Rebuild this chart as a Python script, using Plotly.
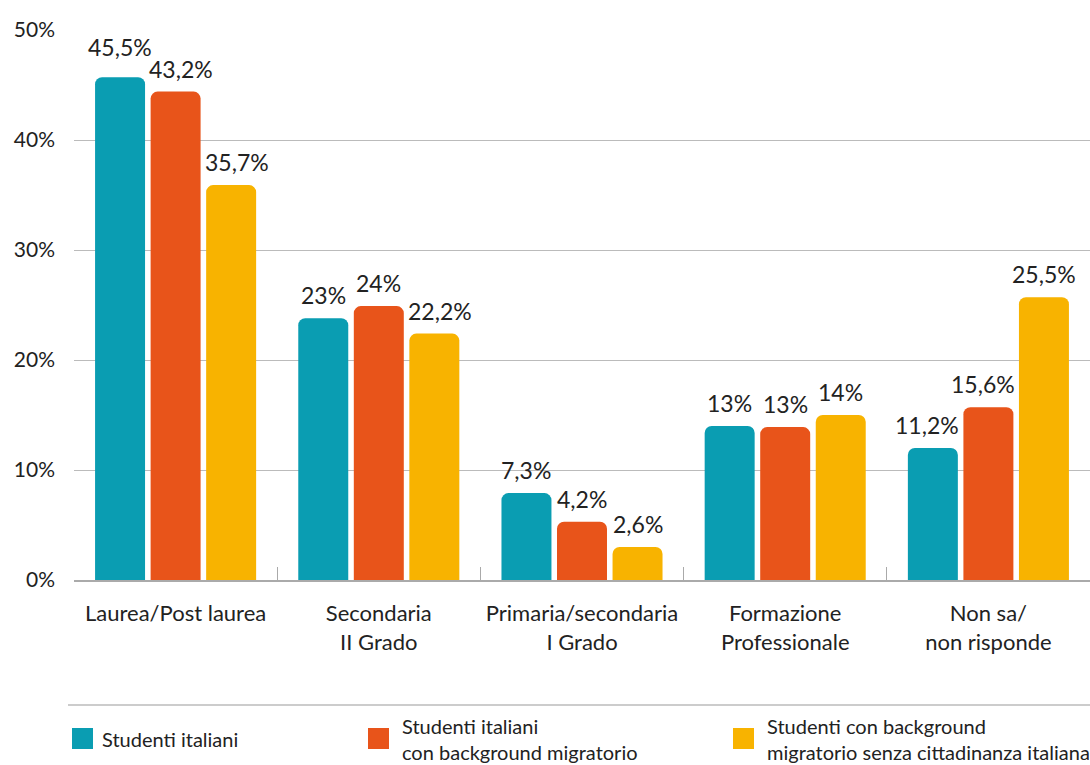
import plotly.graph_objects as go

categories = ["Laurea/Post laurea", "Secondaria<br>II Grado", "Primaria/secondaria<br>I Grado",
              "Formazione<br>Professionale", "Non sa/<br>non risponde"]
series_names = ["Studenti italiani",
                "Studenti italiani<br>con background migratorio",
                "Studenti con background<br>migratorio senza cittadinanza italiana"]
values_italiani = [45.7, 23.8, 7.9, 14.0, 12.0]
values_background = [44.4, 24.9, 5.3, 13.9, 15.7]
values_senza = [35.9, 22.4, 3.0, 15.0, 25.7]
labels_italiani = ["45,5%", "23%", "7,3%", "13%", "11,2%"]
labels_background = ["43,2%", "24%", "4,2%", "13%", "15,6%"]
labels_senza = ["35,7%", "22,2%", "2,6%", "14%", "25,5%"]
y_ticks = [0, 10, 20, 30, 40, 50]
y_tick_text = ["0%", "10%", "20%", "30%", "40%", "50%"]

colors = ["#0A9DB2", "#E8541A", "#F8B300"]
FONT = "Lato, 'Noto Sans', sans-serif"
LABEL_SIZE = 23

W, H = 1090, 765
ML, MR, MT, MB = 74, 0, 30, 185
pw = W - ML - MR
ph = H - MT - MB
BARGAP, GROUPGAP = 0.18, 0.1
YMAX = 50
n_series = 3
slot = pw / len(categories) * (1 - BARGAP) / n_series
bar_w = slot * (1 - GROUPGAP)
upx = ph / YMAX  # pixels per unit


def px_x(x):
    return (x - ML) / pw


def px_y(y):
    return (H - MB - y) / ph


def text_width(s):
    w = 0.0
    for ch in s:
        w += {",": 0.24, "%": 0.82}.get(ch, 0.58) * LABEL_SIZE
    return w


fig = go.Figure()
all_vals = [values_italiani, values_background, values_senza]
all_labs = [labels_italiani, labels_background, labels_senza]
for vals, col in zip(all_vals, colors):
    fig.add_trace(go.Bar(
        x=categories, y=vals,
        marker=dict(color=col, cornerradius=7, line=dict(width=0)),
        showlegend=False, hoverinfo="x+y",
    ))

# value labels above bars, nudged to avoid neighbouring bars / labels
GAP, TEXT_H, PAD = 7, 18, 4
for c, cat in enumerate(categories):
    vals = [all_vals[s][c] for s in range(n_series)]
    labs = [all_labs[s][c] for s in range(n_series)]
    centers = [(s - 1) * slot for s in range(n_series)]
    xs = list(centers)
    bottoms = [v * upx + GAP for v in vals]
    widths = [text_width(t) for t in labs]
    for s in range(n_series):
        for k in (s - 1, s + 1):
            if 0 <= k < n_series and vals[k] * upx > bottoms[s]:
                if k > s:
                    ov = (xs[s] + widths[s] / 2) - (centers[k] - bar_w / 2)
                    if ov > 0:
                        xs[s] -= ov + PAD
                else:
                    ov = (centers[k] + bar_w / 2) - (xs[s] - widths[s] / 2)
                    if ov > 0:
                        xs[s] += ov + PAD
    for s in range(n_series - 1):
        k = s + 1
        hov = (xs[s] + widths[s] / 2) - (xs[k] - widths[k] / 2)
        vov = abs(bottoms[s] - bottoms[k]) < TEXT_H
        if hov > 0 and vov:
            hi, lo = (s, k) if bottoms[s] >= bottoms[k] else (k, s)
            bottoms[hi] = bottoms[lo] + TEXT_H + PAD
    for s in range(n_series):
        fig.add_annotation(x=cat, y=vals[s], xref="x", yref="y", text=labs[s],
                           showarrow=False, xanchor="center", yanchor="bottom",
                           xshift=xs[s], yshift=bottoms[s] - vals[s] * upx,
                           font=dict(family=FONT, size=LABEL_SIZE, color="#222222"))

# manual legend
legend_x = [72, 368, 733]
text_x = [100, 400, 765]
for name, col, lx, tx in zip(series_names, colors, legend_x, text_x):
    fig.add_shape(type="rect", xref="paper", yref="paper",
                  x0=px_x(lx), x1=px_x(lx + 21), y0=px_y(749), y1=px_y(728),
                  fillcolor=col, line=dict(width=0))
    fig.add_annotation(xref="paper", yref="paper", x=px_x(tx), y=px_y(739),
                       xanchor="left", yanchor="middle", align="left",
                       text=name, showarrow=False,
                       font=dict(family=FONT, size=20, color="#222222"))

fig.add_shape(type="line", xref="paper", yref="paper",
              x0=px_x(68), x1=1, y0=px_y(705), y1=px_y(705),
              line=dict(color="#BBBBBB", width=1.5))

fig.update_layout(
    width=W, height=H,
    margin=dict(l=ML, r=MR, t=MT, b=MB),
    paper_bgcolor="white", plot_bgcolor="white",
    barmode="group", bargap=BARGAP, bargroupgap=GROUPGAP,
    font=dict(family=FONT, color="#222222"),
    xaxis=dict(showline=True, linecolor="#AAAAAA", linewidth=1.5,
               ticks="inside", tickson="boundaries", ticklen=13, tickcolor="#AAAAAA",
               tickfont=dict(family=FONT, size=22, color="#222222"),
               ticklabelstandoff=13, showgrid=False),
    yaxis=dict(range=[0, YMAX], tickmode="array", tickvals=y_ticks, ticktext=y_tick_text,
               showgrid=True, gridcolor="#BBBBBB", gridwidth=1,
               zeroline=False, showline=False,
               tickfont=dict(family=FONT, size=21, color="#222222"),
               ticklabelstandoff=18),
)

fig.write_html("out.html", config={"displayModeBar": False},
               post_script="document.body.style.margin='0';")
